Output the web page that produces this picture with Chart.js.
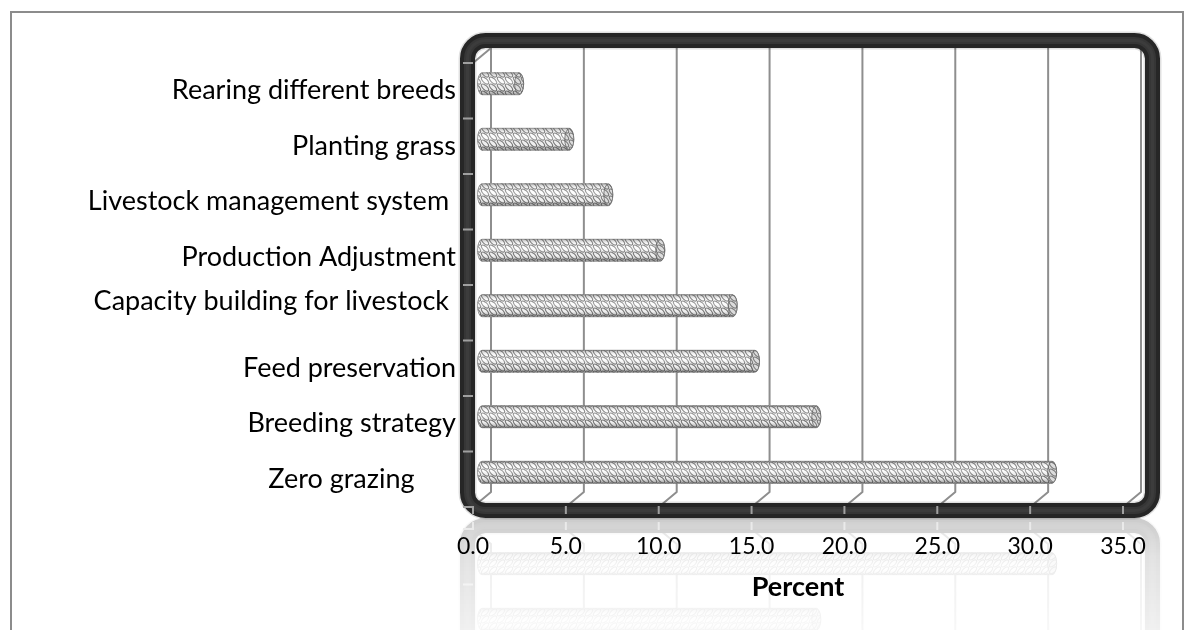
<!DOCTYPE html>
<html>
<head>
<meta charset="utf-8">
<script src="https://cdn.jsdelivr.net/npm/chart.js@4.4.1/dist/chart.umd.min.js"></script>
<style>
  html, body { margin: 0; padding: 0; background: #ffffff; }
  #wrap { position: relative; width: 1193px; height: 630px; overflow: hidden; }
  #box { position: absolute; left: 10px; top: 11px; width: 1174px; height: 660px;
         border: 2px solid #8c8c8c; box-sizing: border-box; }
  #c { position: absolute; left: 0; top: 0; }
</style>
</head>
<body>
<div id="wrap">
  <div id="box"></div>
  <canvas id="c" width="1193" height="630"></canvas>
</div>
<script>
// Adaptation strategies (top to bottom) and the share of respondents using each
const strategies = [
  'Rearing different breeds',
  'Planting grass',
  'Livestock management system ',
  'Production Adjustment',
  ['Capacity building for livestock ', ''],
  'Feed preservation',
  'Breeding strategy',
  'Zero grazing      '
];
const percentValues = [2.0, 4.7, 6.8, 9.6, 13.5, 14.7, 18.0, 30.7];
const percentTicks = [0, 5, 10, 15, 20, 25, 30, 35];

// 3D depth: the back wall sits up and to the right of the front plane,
// the cylinders sit half way between them
const DEPTH_X = 18, DEPTH_Y = 15;
const MID_X = 9, MID_Y = 7;

const FONT = 'Lato, "Open Sans", sans-serif';

// woven texture for the cylinders: rows of slanted loops
function weavePattern(ctx) {
  const t = document.createElement('canvas');
  t.width = 8; t.height = 7;
  const g = t.getContext('2d');
  g.fillStyle = '#fbfbfb';
  g.fillRect(0, 0, 8, 7);
  g.strokeStyle = '#6f6f6f';
  g.lineWidth = 1.1;
  for (const ox of [-8, 0, 8]) {
    for (const oy of [-7, 0, 7]) {
      g.beginPath();
      g.ellipse(ox + 4, oy + 3.5, 4.6, 2.1, 0.75, 0, Math.PI * 2);
      g.stroke();
    }
  }
  return ctx.createPattern(t, 'repeat');
}

const canvas = document.getElementById('c');
const ctx0 = canvas.getContext('2d');
const weave = weavePattern(ctx0);

function roundRectPath(ctx, x0, y0, x1, y1, r) {
  ctx.beginPath();
  ctx.moveTo(x0 + r, y0);
  ctx.lineTo(x1 - r, y0);
  ctx.arcTo(x1, y0, x1, y0 + r, r);
  ctx.lineTo(x1, y1 - r);
  ctx.arcTo(x1, y1, x1 - r, y1, r);
  ctx.lineTo(x0 + r, y1);
  ctx.arcTo(x0, y1, x0, y1 - r, r);
  ctx.lineTo(x0, y0 + r);
  ctx.arcTo(x0, y0, x0 + r, y0, r);
  ctx.closePath();
}

// back-wall gridlines with their floor edges, then the depth offset for the bars
const depthPlugin = {
  id: 'depth',
  beforeDatasetsDraw(chart) {
    const { ctx, chartArea: ca, scales: { x } } = chart;
    ctx.save();
    ctx.strokeStyle = '#8e8e8e';
    ctx.lineWidth = 2;
    ctx.lineJoin = 'round';
    // top edge of the side wall
    ctx.beginPath();
    ctx.moveTo(ca.left, ca.top);
    ctx.lineTo(ca.left + DEPTH_X, ca.top - DEPTH_Y);
    ctx.stroke();
    for (const v of percentTicks) {
      const fx = x.getPixelForValue(v);
      const bx = fx + DEPTH_X;
      ctx.beginPath();
      ctx.moveTo(bx, ca.top - DEPTH_Y);
      ctx.lineTo(bx, ca.bottom - DEPTH_Y);
      ctx.lineTo(fx, ca.bottom);
      ctx.stroke();
    }
    ctx.restore();
    ctx.save();
    ctx.translate(MID_X, -MID_Y);
  },
  afterDatasetsDraw(chart) {
    const { ctx } = chart;
    const meta = chart.getDatasetMeta(0);
    for (const bar of meta.data) {
      const { x: xe, y, base, height } = bar.getProps(['x', 'y', 'base', 'height'], true);
      const h = height, ry = h / 2, rx = 4.5;
      const top = y - ry, bot = y + ry;
      // body: left rounded end + straight run + right end
      ctx.beginPath();
      ctx.moveTo(xe, top);
      ctx.lineTo(base, top);
      ctx.ellipse(base, y, rx, ry, 0, -Math.PI / 2, Math.PI / 2, true);
      ctx.lineTo(xe, bot);
      ctx.ellipse(xe, y, rx, ry, 0, Math.PI / 2, -Math.PI / 2, true);
      ctx.closePath();
      ctx.fillStyle = weave;
      ctx.fill();
      const sh = ctx.createLinearGradient(0, top, 0, bot);
      sh.addColorStop(0, 'rgba(70,70,70,0.40)');
      sh.addColorStop(0.22, 'rgba(255,255,255,0.15)');
      sh.addColorStop(0.45, 'rgba(255,255,255,0.35)');
      sh.addColorStop(0.75, 'rgba(120,120,120,0.08)');
      sh.addColorStop(1, 'rgba(50,50,50,0.50)');
      ctx.fillStyle = sh;
      ctx.fill();
      ctx.strokeStyle = 'rgba(120,120,120,0.7)';
      ctx.lineWidth = 1;
      ctx.stroke();
      // end face of the cylinder
      ctx.beginPath();
      ctx.ellipse(xe, y, rx, ry - 0.5, 0, 0, Math.PI * 2);
      ctx.fillStyle = weave;
      ctx.fill();
      ctx.fillStyle = 'rgba(150,150,150,0.30)';
      ctx.fill();
      ctx.strokeStyle = 'rgba(100,100,100,0.8)';
      ctx.stroke();
    }
    ctx.restore();
  }
};

// rounded dark frame round the plot, its tick marks and the mirrored floor reflection
const framePlugin = {
  id: 'frame',
  afterDraw(chart) {
    const { ctx, chartArea: ca, scales: { x, y } } = chart;
    const L = ca.left - 5.5, R = ca.right + 29.5, T = ca.top - 22.5, B = ca.bottom + 3.5;
    ctx.save();
    // soft shadow
    roundRectPath(ctx, L, T, R, B, 18);
    ctx.strokeStyle = 'rgba(0,0,0,0.12)';
    ctx.lineWidth = 18;
    ctx.stroke();
    ctx.strokeStyle = '#262626';
    ctx.lineWidth = 15;
    ctx.stroke();
    ctx.strokeStyle = '#363636';
    ctx.lineWidth = 7;
    ctx.stroke();
    ctx.strokeStyle = '#3c3c3c';
    ctx.lineWidth = 3;
    ctx.stroke();

    // tick marks on the frame
    ctx.strokeStyle = '#a0a0a0';
    ctx.lineWidth = 2;
    const n = strategies.length;
    const step = (y.getPixelForTick(n - 1) - y.getPixelForTick(0)) / (n - 1);
    for (let i = 0; i <= n; i++) {
      const yy = y.getPixelForTick(0) - step / 2 + i * step;
      ctx.beginPath();
      ctx.moveTo(L - 4.5, yy);
      ctx.lineTo(L + 5.5, yy);
      ctx.stroke();
    }
    for (const v of percentTicks) {
      const xx = x.getPixelForValue(v);
      ctx.beginPath();
      ctx.moveTo(xx, B - 4.5);
      ctx.lineTo(xx, B + 3.5);
      ctx.stroke();
    }
    ctx.restore();

    // reflection of the plot on the floor, drawn behind the axis texts
    const edge = B + 7.5;
    const rx0 = Math.floor(L - 10), rx1 = Math.ceil(R + 10);
    const w = rx1 - rx0;
    const h = Math.ceil(chart.height - edge);
    const off = document.createElement('canvas');
    off.width = w; off.height = h;
    const o = off.getContext('2d');
    o.translate(0, h);
    o.scale(1, -1);
    o.drawImage(chart.canvas, rx0, edge - h, w, h, 0, 0, w, h);
    o.setTransform(1, 0, 0, 1, 0, 0);
    o.globalCompositeOperation = 'destination-in';
    const fade = o.createLinearGradient(0, 0, 0, h);
    fade.addColorStop(0, 'rgba(0,0,0,0.24)');
    fade.addColorStop(0.35, 'rgba(0,0,0,0.14)');
    fade.addColorStop(1, 'rgba(0,0,0,0.07)');
    o.fillStyle = fade;
    o.fillRect(0, 0, w, h);
    ctx.save();
    ctx.globalCompositeOperation = 'destination-over';
    ctx.drawImage(off, rx0, edge);
    ctx.restore();
  }
};

new Chart(canvas, {
  type: 'bar',
  data: {
    labels: strategies,
    datasets: [{
      data: percentValues,
      backgroundColor: weave,
      borderWidth: 0,
      barThickness: 22,
      clip: false
    }]
  },
  options: {
    indexAxis: 'y',
    responsive: false,
    animation: false,
    devicePixelRatio: 1,
    layout: { padding: { left: 0, right: 70, top: 63, bottom: 0 } },
    plugins: { legend: { display: false }, tooltip: { enabled: false } },
    scales: {
      x: {
        min: 0, max: 35,
        afterBuildTicks(s) { s.ticks = percentTicks.map(v => ({ value: v })); },
        afterFit(s) { s.height = 123; },
        grid: { display: false, drawTicks: false },
        border: { display: false },
        ticks: {
          padding: 26,
          color: '#000',
          font: { family: FONT, size: 23 },
          callback: v => Number(v).toFixed(1)
        },
        title: {
          display: true,
          text: 'Percent',
          color: '#000',
          font: { family: FONT, size: 27, weight: 'bold' },
          padding: { top: 0, bottom: 27 }
        }
      },
      y: {
        afterFit(s) { s.width = 473; },
        grid: { display: false, drawTicks: false },
        border: { display: false },
        ticks: {
          padding: 17,
          color: '#000',
          font: { family: FONT, size: 27, lineHeight: 0.82 },
          autoSkip: false
        }
      }
    }
  },
  plugins: [depthPlugin, framePlugin]
});
</script>
</body>
</html>
